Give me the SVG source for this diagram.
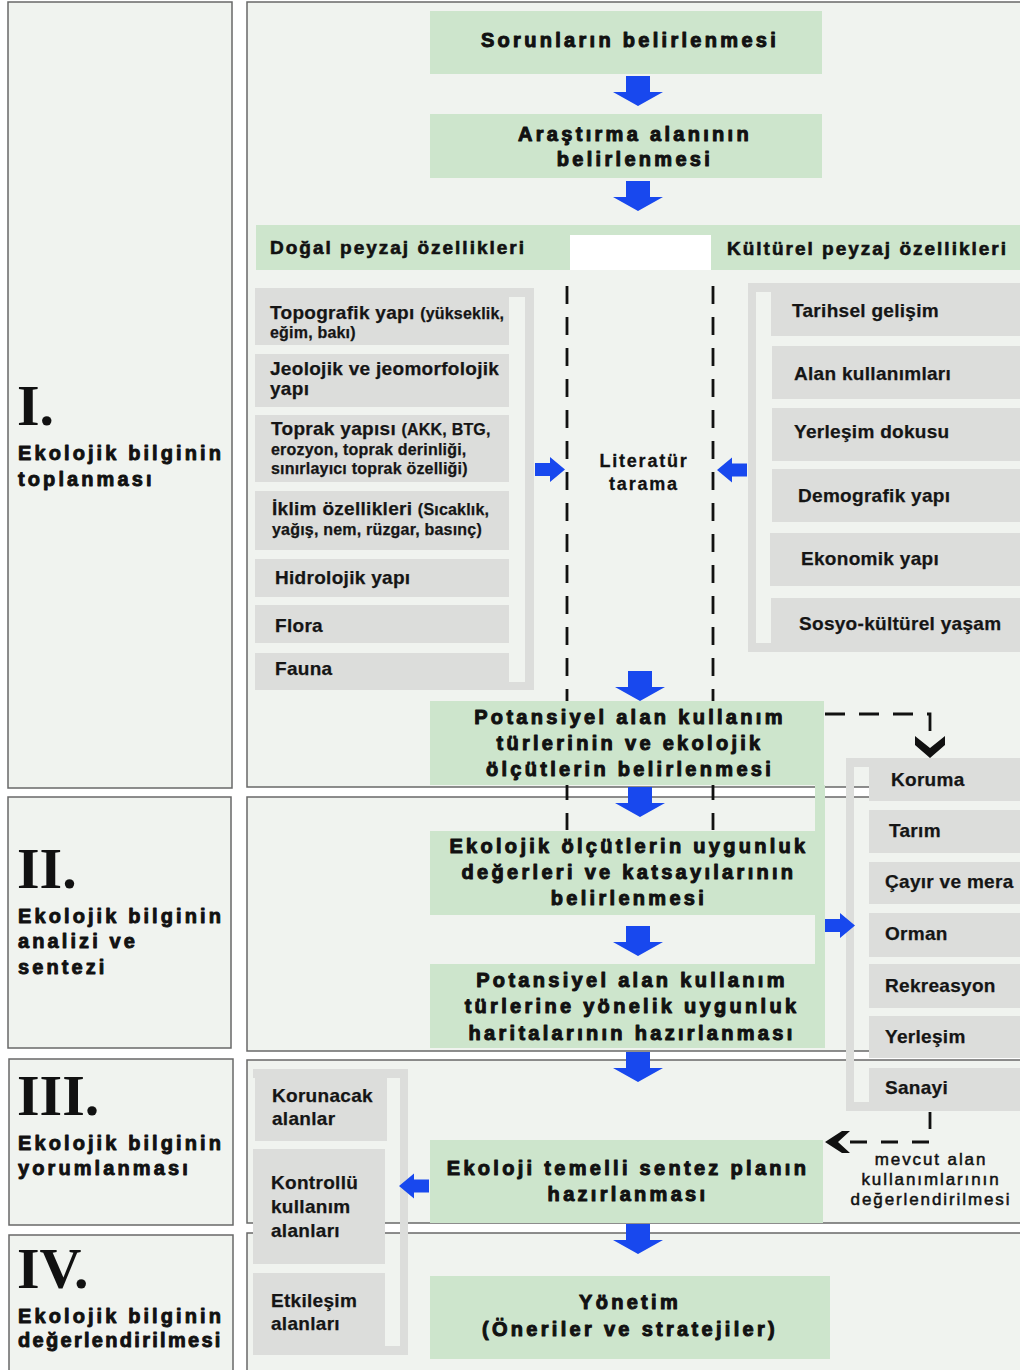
<svg xmlns="http://www.w3.org/2000/svg" xmlns:xlink="http://www.w3.org/1999/xlink" width="1020" height="1370" viewBox="0 0 1020 1370">
  <defs>
    <style>
      .panel { fill: #f0f3ef; stroke: #686868; stroke-width: 1.5; }
      .box { fill: #cde5cc; }
      .item { fill: #dcdddb; }
      .frame { fill: #dcdddb; fill-rule: evenodd; }
      .blue { fill: #1848ee; }
      .dash { fill: none; stroke: #111; stroke-width: 2.8; }
      .flow { font-family: "Liberation Sans", Arial, sans-serif; font-weight: bold; font-size: 20px; letter-spacing: 3.3px; fill: #111; stroke: #111; stroke-width: 1; stroke-linejoin: round; text-anchor: middle; }
      .head { font-family: "Liberation Sans", Arial, sans-serif; font-weight: bold; font-size: 19px; letter-spacing: 2px; fill: #111; stroke: #111; stroke-width: 0.6; }
      .sec { font-family: "Liberation Sans", Arial, sans-serif; font-weight: bold; font-size: 20px; letter-spacing: 3.1px; fill: #111; stroke: #111; stroke-width: 0.9; stroke-linejoin: round; }
      .num { font-family: "Liberation Serif", "Times New Roman", serif; font-weight: bold; font-size: 58px; fill: #111; }
      .it { font-family: "Liberation Sans", Arial, sans-serif; font-weight: bold; font-size: 19px; letter-spacing: 0.3px; fill: #151515; stroke: #151515; stroke-width: 0.25; }
      .sm { font-size: 16px; letter-spacing: 0.2px; }
      .lit { font-family: "Liberation Sans", Arial, sans-serif; font-weight: bold; font-size: 18px; letter-spacing: 1.8px; fill: #111; stroke: #111; stroke-width: 0.3; text-anchor: middle; }
      .note { font-family: "Liberation Sans", Arial, sans-serif; font-size: 17px; letter-spacing: 1.9px; fill: #111; stroke: #111; stroke-width: 0.5; text-anchor: middle; }
    </style>
    <path id="arrDown" d="M-12,0 H12 V16 H25 L0,30 L-25,16 H-12 Z"/>
    <path id="arrRight" d="M0,-6.5 H15 V-12.5 L30,0 L15,12.5 V6.5 H0 Z"/>
    <path id="arrLeft" d="M0,-6.5 H-15 V-12.5 L-30,0 L-15,12.5 V6.5 H0 Z"/>
  </defs>

  <rect x="0" y="0" width="1020" height="1370" fill="#ffffff"/>

  <!-- stage panels -->
  <g id="panels">
    <rect class="panel" x="8" y="2" width="224" height="786"/>
    <rect class="panel" x="8" y="797" width="223" height="251"/>
    <rect class="panel" x="9" y="1059" width="224" height="166"/>
    <rect class="panel" x="9" y="1235" width="224" height="150"/>
    <rect class="panel" x="247" y="2" width="800" height="785"/>
    <rect class="panel" x="247" y="797" width="800" height="254"/>
    <rect class="panel" x="247" y="1060" width="800" height="163"/>
    <rect class="panel" x="247" y="1233" width="800" height="150"/>
  </g>

  <!-- stage labels -->
  <g id="stage-1">
    <text class="num" x="17" y="425">I.</text>
    <text class="sec" x="18" y="460">Ekolojik bilginin</text>
    <text class="sec" x="18" y="486">toplanması</text>
  </g>
  <g id="stage-2">
    <text class="num" x="17" y="888">II.</text>
    <text class="sec" x="18" y="923">Ekolojik bilginin</text>
    <text class="sec" x="18" y="948">analizi ve</text>
    <text class="sec" x="18" y="974">sentezi</text>
  </g>
  <g id="stage-3">
    <text class="num" x="17" y="1115">III.</text>
    <text class="sec" x="18" y="1150">Ekolojik bilginin</text>
    <text class="sec" x="18" y="1175">yorumlanması</text>
  </g>
  <g id="stage-4">
    <text class="num" x="17" y="1288">IV.</text>
    <text class="sec" x="18" y="1323">Ekolojik bilginin</text>
    <text class="sec" x="18" y="1347" style="letter-spacing:2.3px">değerlendirilmesi</text>
  </g>

  <!-- dashed guides and connectors -->
  <g id="connectors">
    <path class="dash" d="M567,286 V830" stroke-dasharray="18 13"/>
    <path class="dash" d="M713,286 V830" stroke-dasharray="18 13"/>
    <path class="dash" d="M825,714 H930 V737" stroke-dasharray="20 14"/>
    <path d="M915,736 L930,748 L945,736 L945,745 L930,758 L915,745 Z" fill="#111"/>
    <path class="dash" d="M930,1112 V1142 H850" stroke-dasharray="17 14"/>
    <path d="M850,1131 L838,1142 L850,1153 L842,1153 L825,1142 L842,1131 Z" fill="#111"/>
  </g>

  <g id="problems">
    <rect class="box" x="430" y="11" width="392" height="63"/>
    <text class="flow" x="630" y="47">Sorunların belirlenmesi</text>
  </g>

  <g id="study-area">
    <rect class="box" x="430" y="114" width="392" height="64"/>
    <text class="flow" x="635" y="141">Araştırma alanının</text>
    <text class="flow" x="635" y="166">belirlenmesi</text>
  </g>

  <g id="landscape-headers">
    <rect class="box" x="256" y="225" width="780" height="45"/>
    <rect x="570" y="235" width="141" height="35" fill="#ffffff"/>
    <text class="head" x="270" y="254">Doğal peyzaj özellikleri</text>
    <text class="head" x="727" y="255">Kültürel peyzaj özellikleri</text>
  </g>

  <g id="natural-features">
    <path class="frame" d="M255,288 H534 V690 H255 Z M255,297 V682 H525 V297 Z"/>
    <rect class="item" x="255" y="288" width="254" height="57"/>
    <rect class="item" x="255" y="354" width="254" height="53"/>
    <rect class="item" x="255" y="415" width="254" height="67"/>
    <rect class="item" x="255" y="491" width="254" height="59"/>
    <rect class="item" x="255" y="559" width="254" height="38"/>
    <rect class="item" x="255" y="605" width="254" height="38"/>
    <rect class="item" x="255" y="653" width="254" height="37"/>
    <text class="it" x="270" y="319">Topografik yapı <tspan class="sm">(yükseklik,</tspan></text>
    <text class="it sm" x="270" y="338">eğim, bakı)</text>
    <text class="it" x="270" y="375">Jeolojik ve jeomorfolojik</text>
    <text class="it" x="270" y="395">yapı</text>
    <text class="it" x="271" y="435">Toprak yapısı <tspan class="sm">(AKK, BTG,</tspan></text>
    <text class="it sm" x="271" y="455">erozyon, toprak derinliği,</text>
    <text class="it sm" x="271" y="474">sınırlayıcı toprak özelliği)</text>
    <text class="it" x="272" y="515">İklim özellikleri <tspan class="sm">(Sıcaklık,</tspan></text>
    <text class="it sm" x="272" y="535">yağış, nem, rüzgar, basınç)</text>
    <text class="it" x="275" y="584">Hidrolojik yapı</text>
    <text class="it" x="275" y="632">Flora</text>
    <text class="it" x="275" y="675">Fauna</text>
  </g>

  <g id="cultural-features">
    <path class="frame" d="M748,283 H1036 V652 H748 Z M756,292 V643 H1036 V292 Z"/>
    <rect class="item" x="771" y="283" width="265" height="53"/>
    <rect class="item" x="772" y="346" width="264" height="53"/>
    <rect class="item" x="772" y="408" width="264" height="53"/>
    <rect class="item" x="772" y="469" width="264" height="53"/>
    <rect class="item" x="770" y="533" width="266" height="53"/>
    <rect class="item" x="771" y="598" width="265" height="54"/>
    <text class="it" x="792" y="317">Tarihsel gelişim</text>
    <text class="it" x="794" y="380">Alan kullanımları</text>
    <text class="it" x="794" y="438">Yerleşim dokusu</text>
    <text class="it" x="798" y="502">Demografik yapı</text>
    <text class="it" x="801" y="565">Ekonomik yapı</text>
    <text class="it" x="799" y="630">Sosyo-kültürel yaşam</text>
  </g>

  <g id="literature">
    <text class="lit" x="644" y="467">Literatür</text>
    <text class="lit" x="644" y="490">tarama</text>
  </g>

  <g id="potential-uses">
    <rect class="box" x="430" y="701" width="394" height="84"/>
    <text class="flow" x="630" y="724">Potansiyel alan kullanım</text>
    <text class="flow" x="630" y="750">türlerinin ve ekolojik</text>
    <text class="flow" x="630" y="776">ölçütlerin belirlenmesi</text>
  </g>

  <rect class="box" x="815" y="785" width="10" height="263"/>

  <g id="suitability-values">
    <rect class="box" x="430" y="831" width="385" height="84"/>
    <text class="flow" x="629" y="853">Ekolojik ölçütlerin uygunluk</text>
    <text class="flow" x="629" y="879">değerleri ve katsayılarının</text>
    <text class="flow" x="629" y="905">belirlenmesi</text>
  </g>

  <g id="suitability-maps">
    <rect class="box" x="430" y="964" width="395" height="84"/>
    <text class="flow" x="632" y="987">Potansiyel alan kullanım</text>
    <text class="flow" x="632" y="1013">türlerine yönelik uygunluk</text>
    <text class="flow" x="632" y="1040">haritalarının hazırlanması</text>
  </g>

  <g id="land-use-types">
    <path class="frame" d="M846,758 H1036 V1111 H846 Z M854,767 V1102 H1036 V767 Z"/>
    <rect class="item" x="869" y="758" width="167" height="43"/>
    <rect class="item" x="869" y="810" width="167" height="43"/>
    <rect class="item" x="869" y="862" width="167" height="42"/>
    <rect class="item" x="869" y="913" width="167" height="44"/>
    <rect class="item" x="869" y="964" width="167" height="44"/>
    <rect class="item" x="869" y="1016" width="167" height="42"/>
    <rect class="item" x="869" y="1068" width="167" height="43"/>
    <text class="it" x="891" y="786">Koruma</text>
    <text class="it" x="889" y="837">Tarım</text>
    <text class="it" x="885" y="888">Çayır ve mera</text>
    <text class="it" x="885" y="940">Orman</text>
    <text class="it" x="885" y="992">Rekreasyon</text>
    <text class="it" x="885" y="1043">Yerleşim</text>
    <text class="it" x="885" y="1094">Sanayi</text>
  </g>

  <g id="current-use-note">
    <text class="note" x="931" y="1165">mevcut alan</text>
    <text class="note" x="931" y="1185">kullanımlarının</text>
    <text class="note" x="931" y="1205">değerlendirilmesi</text>
  </g>

  <g id="synthesis-plan">
    <rect class="box" x="430" y="1140" width="393" height="83"/>
    <text class="flow" x="628" y="1175">Ekoloji temelli sentez planın</text>
    <text class="flow" x="628" y="1201">hazırlanması</text>
  </g>

  <g id="zones">
    <path class="frame" d="M253,1069 H408 V1355 H253 Z M253,1078 V1346 H400 V1078 Z"/>
    <rect class="item" x="255" y="1069" width="132" height="72"/>
    <rect class="item" x="253" y="1149" width="132" height="115"/>
    <rect class="item" x="253" y="1273" width="132" height="82"/>
    <text class="it" x="272" y="1102">Korunacak</text>
    <text class="it" x="272" y="1125">alanlar</text>
    <text class="it" x="271" y="1189">Kontrollü</text>
    <text class="it" x="271" y="1213">kullanım</text>
    <text class="it" x="271" y="1237">alanları</text>
    <text class="it" x="271" y="1307">Etkileşim</text>
    <text class="it" x="271" y="1330">alanları</text>
  </g>

  <g id="management">
    <rect class="box" x="430" y="1276" width="400" height="83"/>
    <text class="flow" x="630" y="1309">Yönetim</text>
    <text class="flow" x="630" y="1336">(Öneriler ve stratejiler)</text>
  </g>

  <!-- flow arrows -->
  <g id="arrows" class="blue">
    <use href="#arrDown" x="638" y="76"/>
    <use href="#arrDown" x="638" y="181"/>
    <use href="#arrDown" x="640" y="671"/>
    <use href="#arrDown" x="640" y="787"/>
    <use href="#arrDown" x="638" y="926"/>
    <use href="#arrDown" x="638" y="1052"/>
    <use href="#arrDown" x="638" y="1224"/>
    <use href="#arrRight" x="535" y="469.5"/>
    <use href="#arrLeft" x="747" y="470"/>
    <use href="#arrRight" x="825" y="925.5"/>
    <use href="#arrLeft" x="429" y="1186"/>
  </g>
</svg>
